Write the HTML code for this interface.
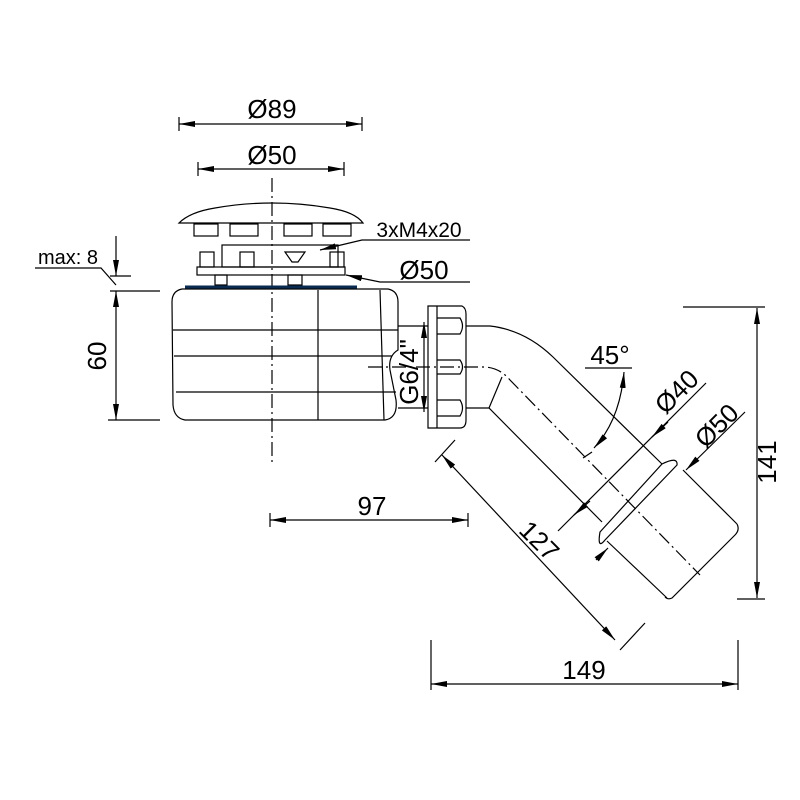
<!DOCTYPE html>
<html><head><meta charset="utf-8"><style>html,body{margin:0;padding:0;background:#fff}svg{display:block}</style></head><body>
<svg width="800" height="800" viewBox="0 0 800 800" xmlns="http://www.w3.org/2000/svg" font-family="Liberation Sans, sans-serif">
<defs>
<marker id="a" viewBox="0 0 16 6" refX="16" refY="3" markerWidth="16" markerHeight="6" markerUnits="userSpaceOnUse" orient="auto"><path d="M0,0 L16,3 L0,6z" fill="#000"/></marker>
<marker id="b" viewBox="0 0 16 6" refX="0" refY="3" markerWidth="16" markerHeight="6" markerUnits="userSpaceOnUse" orient="auto"><path d="M16,0 L0,3 L16,6z" fill="#000"/></marker>
</defs>
<g stroke="#000" stroke-width="1.2" fill="none">
<line x1="272" y1="178" x2="272" y2="465" stroke-dasharray="14,4,2,4"/>
<path d="M368,367 L485,367 Q500,368 510,380 L700,575" stroke-dasharray="14,4,2,4"/>
<line x1="179" y1="124" x2="362" y2="124" marker-start="url(#b)" marker-end="url(#a)"/>
<line x1="179" y1="117" x2="179" y2="131"/><line x1="362" y1="117" x2="362" y2="131"/>
<line x1="198" y1="169" x2="344" y2="169" marker-start="url(#b)" marker-end="url(#a)"/>
<line x1="198" y1="162" x2="198" y2="176"/><line x1="344" y1="162" x2="344" y2="176"/>
<path d="M179,223 Q190,212 215,208 Q272,198 330,208 Q355,212 363,223 Z"/>
<rect x="194" y="224" width="24" height="12"/><rect x="230" y="224" width="28" height="12"/>
<rect x="284" y="224" width="28" height="12"/><rect x="323" y="224" width="28" height="12"/>
<rect x="222" y="245" width="116" height="22"/>
<rect x="197" y="267" width="148" height="8"/>
<rect x="200" y="252" width="14" height="15"/><rect x="240" y="252" width="14" height="15"/><rect x="330" y="252" width="14" height="15"/>
<path d="M285,252 L305,252 L298,262 L292,262 Z"/>
<rect x="288" y="275" width="14" height="10"/><rect x="215" y="275" width="12" height="10"/>
<path d="M182,289 L388,289 Q398,291 398,302 L398,350 Q388,356 390,370 L396,400 Q398,418 385,420 L185,420 Q174,418 173,405 L172,302 Q172,291 182,289 Z"/>
<line x1="173" y1="330" x2="398" y2="330"/><line x1="174" y1="356" x2="392" y2="356"/>
<line x1="176" y1="392" x2="396" y2="392"/><line x1="318" y1="290" x2="318" y2="420"/>
<line x1="380" y1="290" x2="384" y2="420"/>
<line x1="398" y1="326" x2="428" y2="326"/><line x1="398" y1="408" x2="428" y2="408"/>
<path d="M428,306 L462,306 Q466,308 466,314 L466,420 Q466,428 460,428 L428,428 Z"/>
<line x1="437" y1="306" x2="437" y2="428"/>
<path d="M437,318 L460,318 Q465,326 460,334 L437,334"/>
<path d="M437,360 L460,360 Q465,367 460,374 L437,374"/>
<path d="M437,400 L460,400 Q465,408 460,416 L437,416"/>
<line x1="424" y1="322" x2="424" y2="412" marker-start="url(#b)" marker-end="url(#a)"/>
<path d="M466,326 L490,326 Q525,330 553,357 L662,464"/>
<path d="M466,408 L489,408 L602,522"/>
<line x1="489" y1="408" x2="502" y2="377"/>
<path d="M662,464 Q678,456 677,465 L605,540 Q597,550 600,532 Z"/>
<line x1="683" y1="470" x2="737" y2="524"/>
<line x1="607" y1="541" x2="667" y2="598"/>
<path d="M737,524 Q740,530 735,535 L672,598 Q668,600 665,597"/>
<line x1="585" y1="368" x2="632" y2="368"/>
<path d="M624,372 Q620,420 594,448" marker-start="url(#b)" marker-end="url(#a)"/>
<line x1="592" y1="452" x2="583" y2="458"/>
<line x1="706" y1="383" x2="558" y2="531"/>
<line x1="668" y1="422" x2="652" y2="437" marker-end="url(#a)"/>
<line x1="574" y1="515" x2="590" y2="501" marker-start="url(#b)"/>
<line x1="745" y1="412" x2="686" y2="470" marker-end="url(#a)"/>
<line x1="608" y1="548" x2="596" y2="560" marker-start="url(#b)"/>
<line x1="442" y1="455" x2="615" y2="640" marker-start="url(#b)" marker-end="url(#a)"/>
<line x1="435" y1="462" x2="455" y2="440"/><line x1="620" y1="650" x2="645" y2="623"/>
<line x1="757" y1="308" x2="757" y2="598" marker-start="url(#b)" marker-end="url(#a)"/>
<line x1="683" y1="307" x2="765" y2="307"/><line x1="737" y1="599" x2="765" y2="599"/>
<line x1="431" y1="684" x2="738" y2="684" marker-start="url(#b)" marker-end="url(#a)"/>
<line x1="431" y1="640" x2="431" y2="690"/><line x1="738" y1="640" x2="738" y2="690"/>
<line x1="270" y1="520" x2="468" y2="520" marker-start="url(#b)" marker-end="url(#a)"/>
<line x1="270" y1="513" x2="270" y2="527"/><line x1="468" y1="513" x2="468" y2="527"/>
<line x1="116" y1="236" x2="116" y2="276" marker-end="url(#a)"/>
<line x1="116" y1="291" x2="116" y2="420" marker-start="url(#b)" marker-end="url(#a)"/>
<line x1="110" y1="276" x2="131" y2="276"/><line x1="110" y1="291" x2="160" y2="291"/>
<line x1="108" y1="420" x2="160" y2="420"/>
<polyline points="35,268 101,268 116,285"/>
<polyline points="470,240 362,240 320,250" marker-end="url(#a)"/>
<polyline points="470,282 380,282 346,275" marker-end="url(#a)"/>
</g>
<line x1="185" y1="287" x2="357" y2="287" stroke="#0a2a50" stroke-width="3"/>
<g font-size="26" fill="#000" text-anchor="middle">
<text x="272" y="118">Ø89</text>
<text x="272" y="164">Ø50</text>
<text x="419" y="237" font-size="21">3xM4x20</text>
<text x="424" y="279">Ø50</text>
<text x="68" y="264" font-size="20">max: 8</text>
<text x="372" y="515">97</text>
<text x="584" y="679">149</text>
<text x="610" y="364">45°</text>
<text transform="translate(106,356) rotate(-90)">60</text>
<text transform="translate(418,372) rotate(-90)">G6/4"</text>
<text transform="translate(776,462) rotate(-90)">141</text>
<text transform="translate(683,398) rotate(-45)">Ø40</text>
<text transform="translate(723,432) rotate(-45)">Ø50</text>
<text transform="translate(533,547) rotate(45)">127</text>
</g>
</svg>
</body></html>
